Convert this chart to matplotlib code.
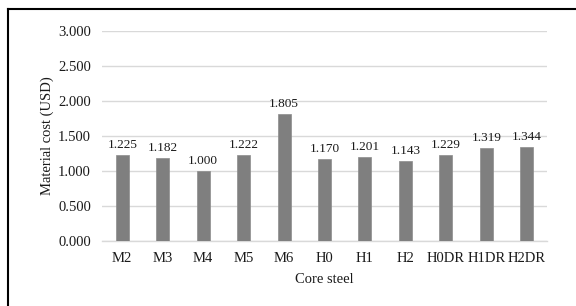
import matplotlib.pyplot as plt
from matplotlib.lines import Line2D
import numpy as np

steels = ["M2", "M3", "M4", "M5", "M6", "H0", "H1", "H2", "H0DR", "H1DR", "H2DR"]
costs = [1.225, 1.182, 1.000, 1.222, 1.805, 1.170, 1.201, 1.143, 1.229, 1.319, 1.344]
yticks = [0.0, 0.5, 1.0, 1.5, 2.0, 2.5, 3.0]

plt.rcParams['font.family'] = ['Liberation Serif', 'DejaVu Serif']

fig = plt.figure(figsize=(5.76, 3.06), dpi=100)
ax = fig.add_axes([102 / 576, 1 - 241 / 306, 445 / 576, (241 - 30.6) / 306])

x = np.arange(len(steels))
bars = ax.bar(x, costs, width=0.32, color="#7f7f7f", edgecolor="#8c8c8c", linewidth=0.5, zorder=3)

# valeurs au-dessus des barres
for xi, v in zip(x, costs):
    ax.annotate(f"{v:.3f}", (xi, v), xytext=(0, 3), textcoords="offset points",
                ha="center", va="bottom", fontsize=9.5, color="#1a1a1a")

ax.set_xlim(-0.5, len(steels) - 0.5)
ax.set_ylim(0, 3.0)
ax.set_yticks(yticks)
ax.set_yticklabels([f"{t:.3f}" for t in yticks], fontsize=10.5, color="#1a1a1a")
ax.set_xticks(x)
ax.set_xticklabels(steels, fontsize=10.5, color="#1a1a1a")
ax.tick_params(axis="both", length=0)
ax.tick_params(axis="y", pad=8)
ax.tick_params(axis="x", pad=8)

ax.grid(axis="y", color="#d9d9d9", linewidth=1, zorder=0)
for s in ["top", "right", "left"]:
    ax.spines[s].set_visible(False)
ax.spines["bottom"].set_color("#d9d9d9")
ax.spines["bottom"].set_linewidth(1)

ax.set_xlabel("Core steel", fontsize=10.5, color="#1a1a1a", labelpad=6)
ax.set_ylabel("Material cost (USD)", fontsize=10.5, color="#1a1a1a", labelpad=3)

# cadre autour de la figure (gauche et haut visibles)
fig.add_artist(Line2D([8 / 576, 8 / 576], [0, 1 - 9 / 306], transform=fig.transFigure, color="black", linewidth=1.5))
fig.add_artist(Line2D([8 / 576, 1], [1 - 9 / 306, 1 - 9 / 306], transform=fig.transFigure, color="black", linewidth=1.5))

fig.savefig("out.png", dpi=100)
plt.close(fig)
